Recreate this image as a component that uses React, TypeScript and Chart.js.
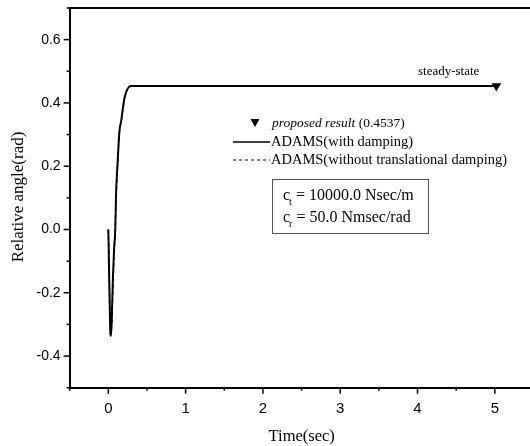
import React, { useEffect, useRef } from "react";
import { Chart, registerables } from "chart.js";
Chart.register(...registerables);

// Time (sec)
const timeSec = [0, 0.005, 0.012, 0.02, 0.027, 0.035, 0.045, 0.06, 0.075, 0.09, 0.1, 0.12, 0.144, 0.166, 0.19, 0.209, 0.24, 0.274, 0.3, 0.35, 0.5, 1, 2, 3, 4, 5];
// ADAMS (with damping)
const withDamping = [0, -0.06, -0.16, -0.26, -0.33, -0.337, -0.28, -0.15, -0.06, 0.0, 0.11, 0.21, 0.311, 0.342, 0.385, 0.415, 0.44, 0.452, 0.4535, 0.4537, 0.4537, 0.4537, 0.4537, 0.4537, 0.4537, 0.4537];
// ADAMS (without translational damping)
const withoutDamping = [0, -0.05, -0.14, -0.24, -0.31, -0.325, -0.3, -0.19, -0.08, -0.01, 0.09, 0.2, 0.305, 0.34, 0.383, 0.414, 0.44, 0.452, 0.4535, 0.4537, 0.4537, 0.4537, 0.4537, 0.4537, 0.4537, 0.4537];
// proposed result
const proposedTime = [5.02];
const proposedValue = [0.4537];

const xTickValues = [0, 1, 2, 3, 4, 5];
const yTickLabels = ["-0.4", "-0.2", "0.0", "0.2", "0.4", "0.6"];

const SERIF = "'Liberation Serif', 'Times New Roman', serif";
const SANS = "'Liberation Sans', Arial, sans-serif";

const overlay = {
  id: "overlay",
  afterDraw(chart: any) {
    const ctx = chart.ctx as CanvasRenderingContext2D;
    const xs = chart.scales.x;
    const ys = chart.scales.y;
    const area = chart.chartArea;
    ctx.save();
    ctx.strokeStyle = "#000";
    ctx.fillStyle = "#000";
    // top border
    ctx.lineWidth = 2;
    ctx.beginPath();
    ctx.moveTo(area.left, area.top);
    ctx.lineTo(area.right, area.top);
    ctx.stroke();
    // x ticks
    ctx.lineWidth = 1.5;
    xs.ticks.forEach((t: any) => {
      const px = xs.getPixelForValue(t.value);
      const major = Math.abs(t.value - Math.round(t.value)) < 1e-6;
      ctx.beginPath();
      ctx.moveTo(px, area.bottom);
      ctx.lineTo(px, area.bottom + (major ? 6 : 3));
      ctx.stroke();
    });
    // y ticks
    ys.ticks.forEach((t: any) => {
      const py = ys.getPixelForValue(t.value);
      const major = Math.abs(Math.round(t.value * 10)) % 2 === 0;
      ctx.beginPath();
      ctx.moveTo(area.left, py);
      ctx.lineTo(area.left - (major ? 6 : 3), py);
      ctx.stroke();
    });
    // axis titles
    ctx.textAlign = "center";
    ctx.textBaseline = "middle";
    ctx.font = `16.5px ${SERIF}`;
    ctx.fillText("Time(sec)", 301.7, 437);
    ctx.save();
    ctx.translate(18.3, 197);
    ctx.rotate(-Math.PI / 2);
    ctx.font = `17px ${SERIF}`;
    ctx.fillText("Relative angle(rad)", 0, 0);
    ctx.restore();
    // steady-state annotation
    ctx.textAlign = "left";
    ctx.font = `13px ${SERIF}`;
    ctx.fillText("steady-state", 418, 72);
    // legend
    const tx = 255, ty = 123;
    ctx.beginPath();
    ctx.moveTo(tx - 4.5, ty - 4);
    ctx.lineTo(tx + 4.5, ty - 4);
    ctx.lineTo(tx, ty + 4);
    ctx.closePath();
    ctx.fill();
    ctx.font = `italic 13.5px ${SERIF}`;
    ctx.fillText("proposed result", 272, ty);
    const w1 = ctx.measureText("proposed result ").width;
    ctx.font = `13.5px ${SERIF}`;
    ctx.fillText("(0.4537)", 272 + w1, ty);
    ctx.lineWidth = 1.5;
    ctx.beginPath();
    ctx.moveTo(233, 142);
    ctx.lineTo(270, 142);
    ctx.stroke();
    ctx.font = `14.5px ${SERIF}`;
    ctx.fillText("ADAMS(with damping)", 271, 142);
    ctx.lineWidth = 1;
    ctx.setLineDash([3, 3]);
    ctx.beginPath();
    ctx.moveTo(233, 160);
    ctx.lineTo(270, 160);
    ctx.stroke();
    ctx.setLineDash([]);
    ctx.fillText("ADAMS(without translational damping)", 271, 160);
    // parameter box
    ctx.strokeStyle = "#555";
    ctx.lineWidth = 1;
    ctx.strokeRect(272.5, 179.5, 156, 54);
    const drawParam = (sub: string, rest: string, y: number) => {
      ctx.font = `16px ${SERIF}`;
      ctx.fillText("c", 283, y);
      const cw = ctx.measureText("c").width;
      ctx.font = `10px ${SERIF}`;
      ctx.fillText(sub, 283 + cw - 1, y + 6);
      const sw = ctx.measureText(sub).width;
      ctx.font = `16px ${SERIF}`;
      ctx.fillText(rest, 283 + cw + sw - 1, y);
    };
    drawParam("t", " = 10000.0 Nsec/m", 196);
    drawParam("r", " = 50.0 Nmsec/rad", 218);
    ctx.restore();
  },
};

export default function App() {
  const ref = useRef<HTMLCanvasElement | null>(null);
  useEffect(() => {
    if (!ref.current) return;
    const chart = new Chart(ref.current, {
      type: "line",
      data: {
        datasets: [
          {
            label: "ADAMS(without translational damping)",
            data: timeSec.map((t, i) => ({ x: t, y: withoutDamping[i] })),
            borderColor: "#000",
            borderWidth: 1.2,
            borderDash: [4, 3],
            pointRadius: 0,
            fill: false,
            cubicInterpolationMode: "monotone",
          },
          {
            label: "ADAMS(with damping)",
            data: timeSec.map((t, i) => ({ x: t, y: withDamping[i] })),
            borderColor: "#000",
            borderWidth: 2,
            pointRadius: 0,
            fill: false,
            cubicInterpolationMode: "monotone",
          },
          {
            label: "proposed result (0.4537)",
            data: proposedTime.map((t, i) => ({ x: t, y: proposedValue[i] })),
            showLine: false,
            pointStyle: "triangle",
            rotation: 180,
            pointRadius: 5.5,
            backgroundColor: "#000",
            borderColor: "#000",
            borderWidth: 0,
          },
        ],
      },
      options: {
        responsive: false,
        animation: false,
        events: [],
        layout: { autoPadding: false, padding: { top: 8, left: 0, right: 0, bottom: 0 } },
        plugins: { legend: { display: false }, tooltip: { enabled: false } },
        scales: {
          x: {
            type: "linear",
            min: -0.5,
            max: 5.455,
            grid: { display: false, drawTicks: false },
            border: { display: true, color: "#000", width: 2 },
            ticks: {
              stepSize: 0.5,
              includeBounds: false,
              autoSkip: false,
              maxRotation: 0,
              padding: 12,
              color: "#000",
              font: { family: SANS, size: 15 },
              callback: (v: any) => {
                const n = Number(v);
                const idx = xTickValues.findIndex((t) => Math.abs(t - n) < 1e-6);
                return idx >= 0 ? String(xTickValues[idx]) : "";
              },
            },
            afterFit: (s: any) => {
              s.height = 58.3;
              s.paddingLeft = 0;
              s.paddingRight = 0;
            },
          },
          y: {
            type: "linear",
            min: -0.5,
            max: 0.7,
            grid: { display: false, drawTicks: false },
            border: { display: true, color: "#000", width: 2 },
            ticks: {
              stepSize: 0.1,
              autoSkip: false,
              padding: 9,
              color: "#000",
              font: { family: SANS, size: 14 },
              callback: (v: any) => {
                const s = (Math.round(Number(v) * 10) / 10).toFixed(1);
                return yTickLabels.includes(s) ? s : "";
              },
            },
            afterFit: (s: any) => {
              s.width = 69.65;
              s.paddingTop = 0;
              s.paddingBottom = 0;
            },
          },
        },
      },
      plugins: [overlay],
    });
    return () => chart.destroy();
  }, []);
  return (
    <div style={{ position: "absolute", left: 0, top: 0, width: 530, height: 446, overflow: "hidden", background: "#fff" }}>
      <canvas ref={ref} width={530} height={446} style={{ width: 530, height: 446, display: "block" }} />
    </div>
  );
}
